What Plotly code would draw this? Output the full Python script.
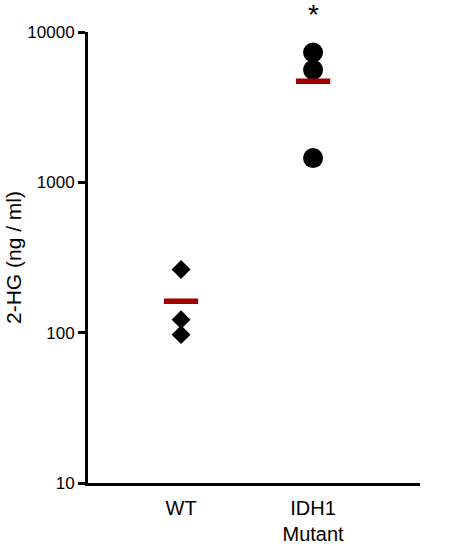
import plotly.graph_objects as go

# values
groups = ["WT", "IDH1 Mutant"]
tick_text = ["WT", "IDH1<br>Mutant"]
wt_values = [263, 122, 97]
idh1_values = [7300, 5600, 1450]
means = [162, 4700]

fig = go.Figure()

fig.add_trace(go.Scatter(
    x=[groups[0]] * len(wt_values), y=wt_values,
    mode="markers",
    marker=dict(symbol="diamond", size=14.5, color="black"),
    showlegend=False,
))
fig.add_trace(go.Scatter(
    x=[groups[1]] * len(idh1_values), y=idh1_values,
    mode="markers",
    marker=dict(symbol="circle", size=20, color="black"),
    showlegend=False,
))
# mean bars
fig.add_trace(go.Scatter(
    x=groups, y=means,
    mode="markers",
    marker=dict(symbol="line-ew", size=24.5, line=dict(width=5.5, color="#a00000")),
    showlegend=False,
))
# significance star above the mutant group (sits above the axis top, so paper ref)
fig.add_annotation(x=groups[1], xref="x", y=1.038, yref="paper",
                   text="*", showarrow=False, yanchor="middle",
                   font=dict(size=28, color="black"))

fig.update_layout(
    width=450, height=546,
    margin=dict(l=88, r=30, t=32, b=63),
    plot_bgcolor="white", paper_bgcolor="white",
    font=dict(family="Liberation Sans, Arial", size=17, color="black"),
    xaxis=dict(
        type="category", categoryorder="array", categoryarray=groups,
        range=[-0.705, 1.81],
        tickvals=groups, ticktext=tick_text,
        showline=True, linewidth=3, linecolor="black",
        ticks="", showgrid=False, zeroline=False,
        tickfont=dict(size=20), ticklabelstandoff=5, automargin=False,
    ),
    yaxis=dict(
        type="log", range=[1, 4],
        tickvals=[10, 100, 1000, 10000],
        ticktext=["10", "100", "1000", "10000"],
        showline=True, linewidth=3, linecolor="black",
        ticks="outside", ticklen=7, tickwidth=3, tickcolor="black",
        showgrid=False, zeroline=False,
        title=dict(text="2-HG (ng / ml)", font=dict(size=21), standoff=0),
        tickfont=dict(size=17), automargin=False,
    ),
)

# drop the default 8px page margin so the figure fills the window
fig.write_html("out.html", config={"displayModeBar": False},
               post_script="document.body.style.margin = '0';")
